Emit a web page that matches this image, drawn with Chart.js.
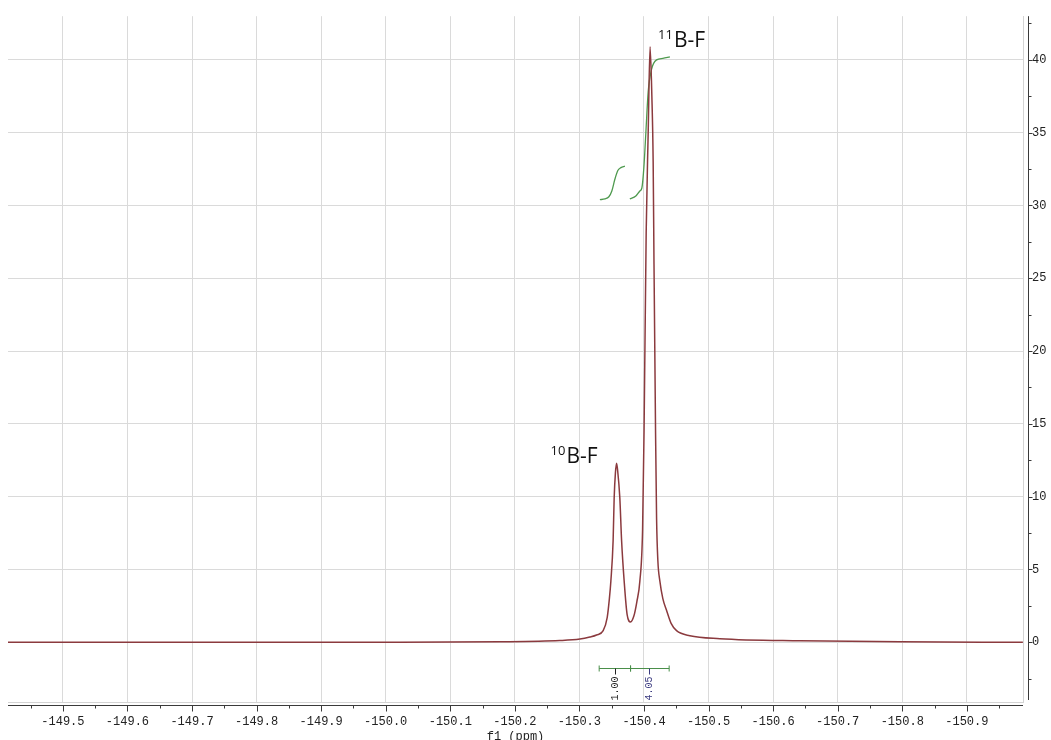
<!DOCTYPE html>
<html>
<head>
<meta charset="utf-8">
<title>19F NMR</title>
<script src="https://cdn.jsdelivr.net/npm/chart.js@4/dist/chart.umd.min.js"></script>
<style>
  html, body { margin: 0; padding: 0; background: #fff; }
  #wrap { width: 1051px; height: 740px; position: relative; }
</style>
</head>
<body>
<div id="wrap"><canvas id="nmr"></canvas></div>
<script>
// spectrum (ppm / intensity)
const shifts = [
  -149.4148, -149.7122, -150.0219, -150.1768, -150.2697, -150.3007, -150.3162,
  -150.3265, -150.3368, -150.3430, -150.3464, -150.3487, -150.3522, -150.3538,
  -150.3557, -150.3575, -150.3592, -150.3626, -150.3653, -150.3693, -150.3739,
  -150.3792, -150.3843, -150.3890, -150.3936, -150.3978, -150.4001, -150.4034,
  -150.4065, -150.4094, -150.4122, -150.4142, -150.4155, -150.4179, -150.4195,
  -150.4215, -150.4246, -150.4292, -150.4349, -150.4420, -150.4504, -150.4710,
  -150.5175, -150.6414, -150.7963, -150.9868
];
const intensity = [
  0.00, 0.00, 0.00, 0.03, 0.12, 0.22, 0.36,
  0.50, 0.80, 1.70, 3.00, 4.20, 7.00, 9.90,
  11.6, 12.3, 11.8, 9.90, 7.00, 4.20, 1.90,
  1.40, 1.80, 2.80, 4.20, 7.70, 14.5, 28.2,
  35.0, 40.9, 37.5, 33.0, 26.0, 14.5, 8.50,
  5.60, 4.20, 3.00, 2.20, 1.30, 0.80, 0.45,
  0.25, 0.10, 0.04, 0.00
];

// integral curves
const int1Shifts = [-150.3317, -150.3394, -150.3456, -150.3502, -150.3549, -150.3595, -150.3642, -150.3704];
const int1Values = [30.40, 30.45, 30.60, 31.00, 31.80, 32.40, 32.60, 32.70];
const int2Shifts = [-150.3781, -150.3874, -150.3936, -150.3967, -150.3998, -150.4029, -150.4065, -150.4117, -150.4195, -150.4292, -150.4401];
const int2Values = [30.45, 30.65, 31.00, 31.20, 32.60, 35.00, 37.80, 39.35, 40.00, 40.10, 40.20];

// integration bar under the peaks
const intRanges = [[-150.3306, -150.3792], [-150.3792, -150.4390]];
const intMarks = [-150.3545, -150.4075];
const intLabels = ['1.00', '4.05'];
const intLevel = -1.76;

// peak labels
const peakIsotopes = ['10', '11'];
const peakShifts = [-150.3575, -150.4094];
const peakHeights = [12.3, 40.9];

// axes
const xTicks = [-149.5, -149.6, -149.7, -149.8, -149.9, -150.0, -150.1, -150.2,
                -150.3, -150.4, -150.5, -150.6, -150.7, -150.8, -150.9];
const yTicks = [0, 5, 10, 15, 20, 25, 30, 35, 40];
const xRange = [-150.987, -149.415];
const yRange = [-4.1, 43.0];

const toPts = (xs, ys) => xs.map((v, i) => ({ x: v, y: ys[i] }));

const decor = {
  id: 'decor',
  afterDatasetsDraw(chart) {
    const { ctx, chartArea: a, scales: { x, y } } = chart;
    ctx.save();

    // dark axis lines, offset from the frame
    ctx.strokeStyle = '#3a3a3a';
    ctx.lineWidth = 1;
    const ax = a.bottom + 3.5;
    const ay = a.right + 5.5;
    ctx.beginPath();
    ctx.moveTo(a.left, ax); ctx.lineTo(a.right, ax);
    xTicks.forEach(v => {
      const px = Math.round(x.getPixelForValue(v)) + 0.5;
      ctx.moveTo(px, ax); ctx.lineTo(px, ax + 6);
    });
    [xTicks[0] + 0.05, ...xTicks.map(v => v - 0.05)].forEach(v => {
      const px = Math.round(x.getPixelForValue(v)) + 0.5;
      ctx.moveTo(px, ax); ctx.lineTo(px, ax + 3);
    });
    ctx.moveTo(ay, a.top); ctx.lineTo(ay, a.bottom - 2);
    yTicks.forEach(v => {
      const py = Math.round(y.getPixelForValue(v)) + 0.5;
      ctx.moveTo(ay, py); ctx.lineTo(ay + 4, py);
    });
    [yTicks[0] - 2.5, ...yTicks.map(v => v + 2.5)].forEach(v => {
      const py = Math.round(y.getPixelForValue(v)) + 0.5;
      ctx.moveTo(ay, py); ctx.lineTo(ay + 3, py);
    });
    ctx.stroke();

    // integration bar
    const by = Math.round(y.getPixelForValue(intLevel)) + 0.5;
    ctx.strokeStyle = '#4a8f4a';
    ctx.beginPath();
    intRanges.forEach(([s, e]) => {
      const p1 = x.getPixelForValue(s), p2 = x.getPixelForValue(e);
      ctx.moveTo(p1, by); ctx.lineTo(p2, by);
      ctx.moveTo(p1, by - 3); ctx.lineTo(p1, by + 3);
      ctx.moveTo(p2, by - 3); ctx.lineTo(p2, by + 3);
    });
    ctx.stroke();
    const labelColors = ['#222', '#3b3b80'];
    intMarks.forEach((v, i) => {
      const px = Math.round(x.getPixelForValue(v)) + 0.5;
      ctx.strokeStyle = labelColors[i];
      ctx.beginPath(); ctx.moveTo(px, by); ctx.lineTo(px, by + 6); ctx.stroke();
      ctx.save();
      ctx.translate(px, by + 20);
      ctx.rotate(-Math.PI / 2);
      ctx.fillStyle = labelColors[i];
      ctx.font = '10px "Liberation Mono"';
      ctx.textAlign = 'center';
      ctx.textBaseline = 'middle';
      ctx.fillText(intLabels[i], 0, 0);
      ctx.restore();
    });

    // peak labels, superscript isotope + B-F
    ctx.fillStyle = '#111';
    ctx.textBaseline = 'alphabetic';
    ctx.textAlign = 'left';
    peakIsotopes.forEach((iso, i) => {
      const px = x.getPixelForValue(peakShifts[i]);
      const py = y.getPixelForValue(peakHeights[i]);
      ctx.font = '13px "Open Sans"';
      const wSup = ctx.measureText(iso).width;
      ctx.font = '21px "Open Sans"';
      const wMain = ctx.measureText('B-F').width;
      const left = i === 0 ? px - 19 - wMain - wSup - 1 : px + 8;
      ctx.font = '13px "Open Sans"';
      ctx.fillText(iso, left, py - 8);
      ctx.font = '21px "Open Sans"';
      ctx.fillText('B-F', left + wSup + 1, py);
    });
    ctx.restore();
  }
};

new Chart(document.getElementById('nmr'), {
  type: 'scatter',
  data: {
    datasets: [
      {
        data: toPts(shifts, intensity),
        showLine: true,
        borderColor: '#8b3a3e',
        borderWidth: 1.5,
        pointRadius: 0,
        cubicInterpolationMode: 'monotone'
      },
      {
        data: toPts(int1Shifts, int1Values),
        showLine: true,
        borderColor: '#4f9a4f',
        borderWidth: 1.3,
        pointRadius: 0,
        cubicInterpolationMode: 'monotone'
      },
      {
        data: toPts(int2Shifts, int2Values),
        showLine: true,
        borderColor: '#4f9a4f',
        borderWidth: 1.3,
        pointRadius: 0,
        cubicInterpolationMode: 'monotone'
      }
    ]
  },
  options: {
    responsive: true,
    maintainAspectRatio: false,
    animation: false,
    devicePixelRatio: 1,
    layout: { padding: { left: 8, top: 13, right: 0, bottom: 0 } },
    plugins: { legend: { display: false }, tooltip: { enabled: false } },
    scales: {
      x: {
        type: 'linear',
        reverse: true,
        min: xRange[0],
        max: xRange[1],
        afterBuildTicks: s => { s.ticks = xTicks.map(v => ({ value: v })); },
        afterFit: s => { s.height = 38; },
        grid: { color: '#dadada', drawTicks: false },
        border: { color: '#d4d4d4' },
        ticks: {
          autoSkip: false,
          maxRotation: 0,
          padding: 13,
          color: '#222',
          font: { family: 'Liberation Mono', size: 12 },
          callback: v => v.toFixed(1)
        },
        title: {
          display: true,
          text: 'f1 (ppm)',
          color: '#222',
          font: { family: 'Liberation Mono', size: 12 },
          padding: { top: 0, bottom: -4 }
        }
      },
      y: {
        type: 'linear',
        position: 'right',
        min: yRange[0],
        max: yRange[1],
        afterBuildTicks: s => { s.ticks = yTicks.map(v => ({ value: v })); },
        afterFit: s => { s.width = 28; },
        grid: { color: '#dadada', drawTicks: false },
        border: { color: '#d4d4d4' },
        ticks: {
          padding: 9,
          color: '#222',
          font: { family: 'Liberation Mono', size: 12 }
        }
      }
    }
  },
  plugins: [decor]
});
</script>
</body>
</html>
